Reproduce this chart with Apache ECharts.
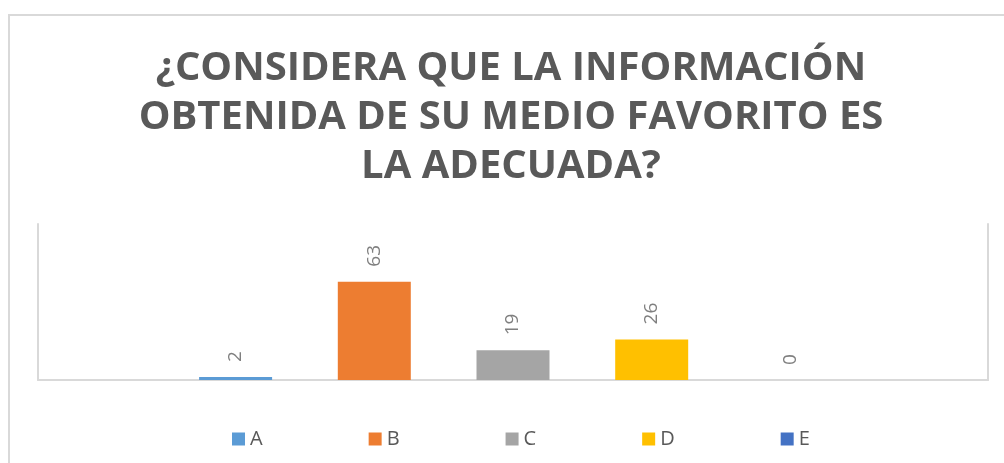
<!DOCTYPE html>
<html>
<head>
<meta charset="utf-8">
<title>Medio favorito</title>
<script src="https://cdn.jsdelivr.net/npm/echarts@6/dist/echarts.min.js"></script>
<style>
	html, body { margin: 0; padding: 0; background: #fff; }
	#chart { width: 1004px; height: 463px; }
</style>
</head>
<body>
<div id="chart"></div>
<script>
/*datos de la encuesta*/
var categorias = ['Respuesta'];
var nombres = ['A', 'B', 'C', 'D', 'E'];
var valores = [2, 63, 19, 26, 0];
var colores = ['#5B9BD5', '#ED7D31', '#A5A5A5', '#FFC000', '#4472C4'];
var tituloTexto = '¿CONSIDERA QUE LA INFORMACIÓN\nOBTENIDA DE SU MEDIO FAVORITO ES\nLA ADECUADA?';

var chart = echarts.init(document.getElementById('chart'));

var series = [];
for (var i = 0; i < nombres.length; i++) {
	series.push({
		name : nombres[i],
		type : 'bar',
		data : [valores[i]],
		barWidth : 73,
		barGap : '90%',
		label : {
			show : true,
			position : 'top',
			rotate : 90,
			align : 'left',
			verticalAlign : 'middle',
			distance : 15,
			color : '#7f7f7f',
			fontFamily : 'Open Sans',
			fontSize : 19
		}
	});
}

var option = {
	color : colores,
	animation : false,
	title : {
		text : tituloTexto,
		left : 506,
		top : 39,
		textAlign : 'center',
		textStyle : {
			color : '#595959',
			fontFamily : 'Open Sans',
			fontWeight : 'bold',
			fontSize : 40,
			lineHeight : 49
		}
	},
	legend : {
		data : nombres,
		left : 227,
		top : 424,
		itemWidth : 13,
		itemHeight : 13,
		itemGap : 106,
		icon : 'rect',
		textStyle : {
			color : '#595959',
			fontFamily : 'Open Sans',
			fontSize : 20
		}
	},
	grid : {
		left : 38,
		right : 16,
		top : 224,
		bottom : 83
	},
	xAxis : {
		type : 'category',
		data : categorias,
		axisTick : { show : false },
		axisLabel : { show : false },
		axisLine : { lineStyle : { color : '#d9d9d9', width : 2 } }
	},
	yAxis : [{
		type : 'value',
		min : 0,
		max : 100,
		axisLabel : { show : false },
		splitLine : { show : false },
		axisLine : { show : true, lineStyle : { color : '#d9d9d9', width : 2 } }
	}, {
		type : 'value',
		position : 'right',
		min : 0,
		max : 100,
		axisLabel : { show : false },
		splitLine : { show : false },
		axisLine : { show : true, lineStyle : { color : '#d9d9d9', width : 2 } }
	}],
	graphic : [{
		type : 'rect',
		silent : true,
		shape : { x : 9, y : 15, width : 1200, height : 600 },
		style : { fill : 'none', stroke : '#d9d9d9', lineWidth : 2 }
	}],
	series : series
};
chart.setOption(option);
</script>
</body>
</html>
